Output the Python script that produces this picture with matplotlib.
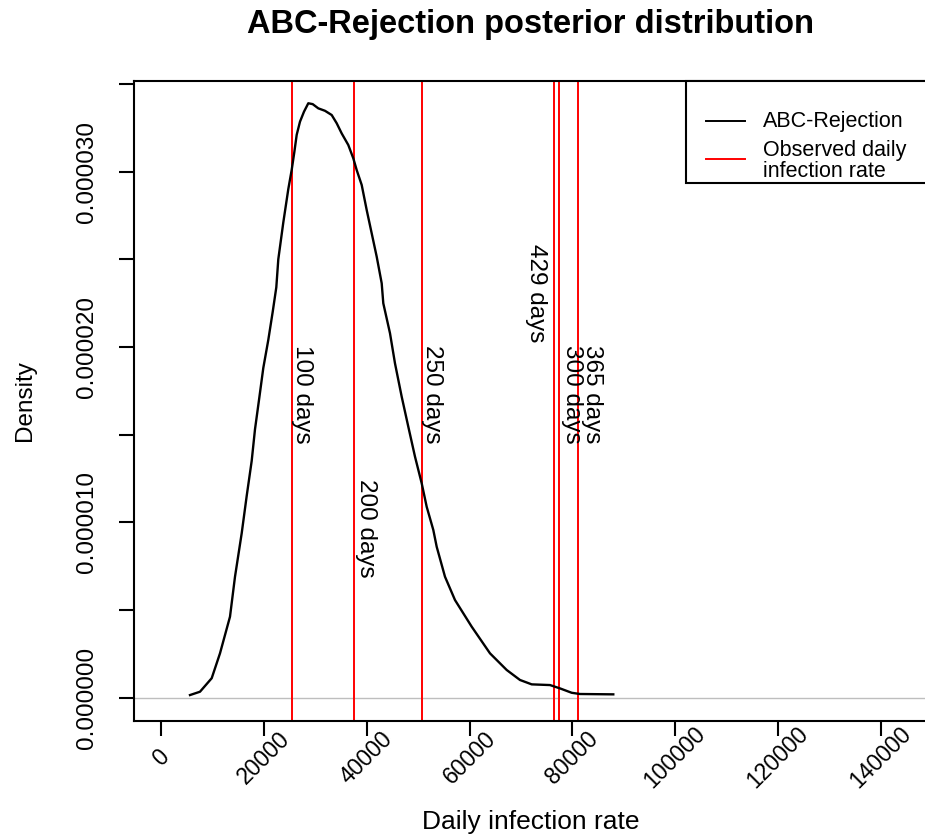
import numpy as np
import matplotlib
matplotlib.use("Agg")
import matplotlib.pyplot as plt
from matplotlib.patches import Rectangle
from matplotlib.lines import Line2D

plt.rcParams['font.family'] = ['Liberation Sans', 'DejaVu Sans']

# posterior density (y in units of 1e-5)
density_x = [5605, 7550, 9827, 11442, 13388, 14361, 15665, 16638, 17611, 18253,
             19090, 19869, 20842, 21698, 22400, 22788, 23761, 24733, 25395, 25901,
             26368, 27010, 27789, 28626, 29482, 30572, 31875, 33179, 34152, 35125,
             36409, 37382, 38044, 39017, 39990, 40963, 41936, 42909, 43220, 44524,
             45497, 46801, 48086, 49389, 50693, 51666, 52951, 53612, 55227, 57173,
             60423, 63984, 67234, 69822, 72099, 75660, 77607, 79883, 81498, 87978]
density_y = [0.014, 0.033, 0.110, 0.252, 0.461, 0.689, 0.937, 1.150, 1.350, 1.530,
             1.710, 1.880, 2.040, 2.200, 2.340, 2.500, 2.710, 2.900, 3.010, 3.110,
             3.210, 3.285, 3.342, 3.390, 3.385, 3.361, 3.347, 3.323, 3.276, 3.218,
             3.152, 3.076, 3.009, 2.924, 2.781, 2.648, 2.515, 2.363, 2.249, 2.078,
             1.906, 1.716, 1.545, 1.374, 1.222, 1.088, 0.956, 0.860, 0.689, 0.556,
             0.404, 0.252, 0.157, 0.100, 0.075, 0.071, 0.052, 0.027, 0.020, 0.018]

# observed daily infection rates
observed_rates = [25512, 37519, 50810, 76497, 77354, 81168]

# text labels next to the red lines
day_labels = ["100 days", "200 days", "250 days", "429 days", "300 days", "365 days"]
day_label_x = [27497, 39854, 52795, 73033, 79942, 83834]
day_label_y = [1.731, 0.964, 1.731, 2.307, 1.731, 1.731]

xticks = [0, 20000, 40000, 60000, 80000, 100000, 120000, 140000]
yticks = [0, 0.5, 1.0, 1.5, 2.0, 2.5, 3.0, 3.5]

W, H = 925, 836
fig = plt.figure(figsize=(W / 100, H / 100), dpi=100)
ax = fig.add_axes([134 / W, (H - 720.7) / H, 793 / W, 639.7 / H])

ax.axhline(0, color='#BEBEBE', lw=1.0, zorder=1)
ax.plot(density_x, np.array(density_y) * 1e-5, color='black', lw=1.7, zorder=3)
for xv in observed_rates:
    ax.axvline(xv, color='red', lw=1.4, zorder=2)
for lab, lx, ly in zip(day_labels, day_label_x, day_label_y):
    ax.text(lx, ly * 1e-5, lab, rotation=270, ha='center', va='center', fontsize=17.5)

ax.set_xlim(-5293, 149026)
ax.set_ylim(-0.1323e-5, 3.517e-5)

for s in ax.spines.values():
    s.set_linewidth(1.5)

ax.set_xticks(xticks)
ax.set_xticklabels([str(v) for v in xticks], rotation=45, ha='center', va='center',
                   rotation_mode='anchor', fontsize=16.5)
ax.set_yticks([v * 1e-5 for v in yticks])
ax.set_yticklabels(["%.6f" % (v * 1e-5) if v == int(v) else "" for v in yticks],
                   rotation=90, ha='center', va='center', rotation_mode='anchor',
                   fontsize=17.5)
ax.tick_params(axis='both', direction='out', length=11, width=1.5)
ax.tick_params(axis='x', pad=15.5)
ax.tick_params(axis='y', pad=23)

ax.set_xlabel("Daily infection rate", fontsize=19, va='center')
ax.xaxis.set_label_coords(0.5, -0.1584)
ax.set_ylabel("Density", fontsize=17.5, va='center')
ax.yaxis.set_label_coords(-0.1375, 0.5)

fig.text(530.5 / W, 1 - 25 / H, "ABC-Rejection posterior distribution",
         ha='center', va='center', fontsize=23.5, fontweight='bold')

# legend box in the top right corner, drawn like R's legend()
ax.add_patch(Rectangle((0.6961, 0.8405), 0.3039, 0.1595, transform=ax.transAxes,
                       facecolor='white', edgecolor='black', lw=1.5, zorder=5,
                       clip_on=False))
ax.add_line(Line2D([0.7213, 0.7705], [0.937, 0.937], color='black', lw=1.4,
                   transform=ax.transAxes, zorder=6, clip_on=False))
ax.add_line(Line2D([0.7213, 0.7705], [0.8781, 0.8781], color='red', lw=1.4,
                   transform=ax.transAxes, zorder=6, clip_on=False))
ax.text(0.7932, 0.937, "ABC-Rejection", transform=ax.transAxes, ha='left',
        va='center', fontsize=15.5, zorder=6)
ax.text(0.7932, 0.875, "Observed daily\ninfection rate", transform=ax.transAxes,
        ha='left', va='center', fontsize=15.5, linespacing=1.0, zorder=6)

fig.savefig("out.png", dpi=100)
